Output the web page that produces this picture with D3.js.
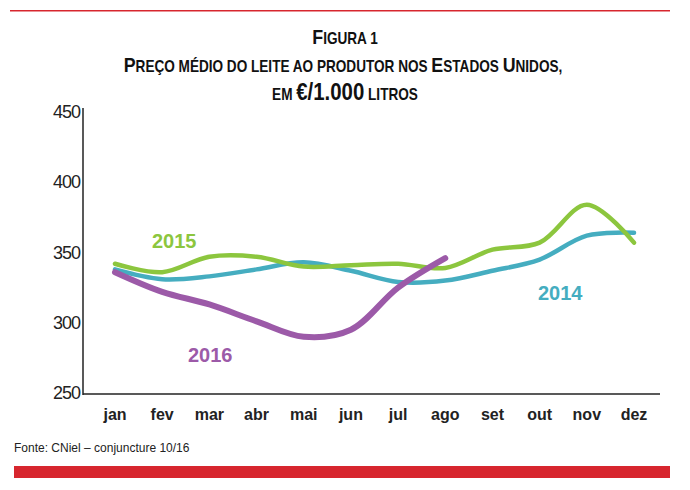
<!DOCTYPE html>
<html><head><meta charset="utf-8">
<script src="https://cdn.jsdelivr.net/npm/d3@7"></script>
<style>body{margin:0;background:#fff}</style>
</head><body>
<svg id="c" width="690" height="490"></svg>
<script>
var months = ['jan','fev','mar','abr','mai','jun','jul','ago','set','out','nov','dez'];
var yTicks = [250,300,350,400,450];
var v2014 = [338,331,333,338,343,337,329,330,337,345,362,364];
var v2015 = [342,336,347,347,340,341,342,339,352,357,384,357];
var v2016 = [336,322,313,301,290,295,325,346];

var svg = d3.select('#c');
svg.append('rect').attr('x',10).attr('y',10).attr('width',660).attr('height',1.5).attr('fill','#d7262e');
svg.append('rect').attr('x',14).attr('y',466).attr('width',656).attr('height',12).attr('fill','#d7262e');

var t = svg.append('g').attr('font-family','Liberation Sans Narrow, Arial Narrow, sans-serif')
    .attr('font-weight','bold').attr('text-anchor','middle').attr('fill','#111');
function sc(g, x, y, parts){
    var tx = g.append('text').attr('x',x).attr('y',y).attr('transform','translate('+x+','+y+') scale(0.85,1) translate('+(-x)+','+(-y)+')');
    parts.forEach(function(p){ tx.append('tspan').attr('font-size',p[1]).text(p[0]); });
}
sc(t,345,44,[['F',21],['IGURA 1',16]]);
sc(t,343,72,[['P',21],['REÇO MÉDIO DO LEITE AO PRODUTOR NOS ',16],['E',21],['STADOS ',16],['U',21],['NIDOS,',16]]);
sc(t,345,100,[['EM ',16],['€/1.000',24],[' LITROS',16]]);

var x = d3.scalePoint().domain(months).range([115,634]);
var y = d3.scaleLinear().domain([250,450]).range([393,112]);

var ax = svg.append('g').attr('font-family','Arial, Liberation Sans, sans-serif');
ax.append('line').attr('x1',83).attr('x2',83).attr('y1',108).attr('y2',395).attr('stroke','#222').attr('stroke-width',1.5);
ax.append('line').attr('x1',83).attr('x2',660).attr('y1',394).attr('y2',394).attr('stroke','#222').attr('stroke-width',1.5);
ax.selectAll('.yt').data(yTicks).enter().append('text')
  .attr('x',80).attr('y',function(d){return y(d)+6;}).attr('text-anchor','end')
  .attr('font-size',18).attr('fill','#222').attr('letter-spacing','-1').text(function(d){return d;});
ax.selectAll('.xt').data(months).enter().append('text')
  .attr('x',function(d){return x(d);}).attr('y',420).attr('text-anchor','middle')
  .attr('font-size',16).attr('font-weight','bold').attr('fill','#222').text(function(d){return d;});

var line = d3.line().x(function(d,i){return x(months[i]);}).y(function(d){return y(d);}).curve(d3.curveCatmullRom.alpha(0.5));
var series = [[v2014,'#45adc0',4.5],[v2015,'#8cc63e',4.5],[v2016,'#9c5aa8',6]];
series.forEach(function(s){
  svg.append('path').datum(s[0]).attr('d',line).attr('fill','none').attr('stroke',s[1]).attr('stroke-width',s[2]).attr('stroke-linecap','round');
});
var lab = svg.append('g').attr('font-family','Arial, Liberation Sans, sans-serif').attr('font-weight','bold').attr('font-size',20);
lab.append('text').attr('x',152).attr('y',248).attr('fill','#8cc63e').text('2015');
lab.append('text').attr('x',538).attr('y',300).attr('fill','#45adc0').text('2014');
lab.append('text').attr('x',188).attr('y',362).attr('fill','#9c5aa8').text('2016');

svg.append('text').attr('x',14).attr('y',452).attr('font-family','Arial, Liberation Sans, sans-serif')
  .attr('font-size',12).attr('fill','#222').text('Fonte: CNiel – conjuncture 10/16');
</script>
</body></html>
